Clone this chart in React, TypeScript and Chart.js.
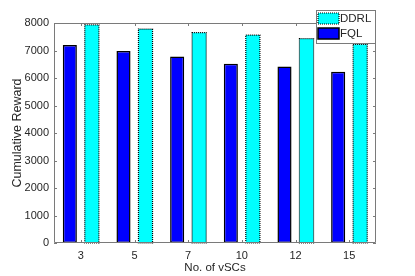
import React, { useEffect, useRef } from "react";
import { Chart, registerables } from "chart.js";

Chart.register(...registerables);

const categories = ["3", "5", "7", "10", "12", "15"];
const fqlValues = [7200, 6980, 6780, 6520, 6420, 6230];
const ddrlValues = [7930, 7780, 7650, 7560, 7430, 7220];
const yTicks = [0, 1000, 2000, 3000, 4000, 5000, 6000, 7000, 8000];

const FONT = "'Liberation Sans', Arial, sans-serif";
const AXIS_COLOR = "#7a7a7a";
const TEXT_COLOR = "#262626";

const framePlugin = {
  id: "frame",
  afterDatasetsDraw(chart: any) {
    const ctx = chart.ctx;
    const meta = chart.getDatasetMeta(1);
    ctx.save();
    meta.data.forEach((el: any) => {
      const { x, y, base, width } = el.getProps(["x", "y", "base", "width"], true);
      ctx.beginPath();
      ctx.setLineDash([1, 1]);
      ctx.lineWidth = 1.2;
      ctx.strokeStyle = "#000";
      ctx.rect(x - width / 2, y, width, base - y);
      ctx.stroke();
    });
    ctx.restore();
  },
  afterDraw(chart: any) {
    const ctx = chart.ctx;
    const { left, right, top, bottom } = chart.chartArea;
    const xs = chart.scales.x;
    const ys = chart.scales.y;
    ctx.save();
    ctx.strokeStyle = AXIS_COLOR;
    ctx.lineWidth = 1;
    ctx.beginPath();
    ctx.rect(left + 0.5, top + 0.5, right - left - 1, bottom - top - 1);
    ctx.stroke();
    const tl = 3;
    ctx.beginPath();
    yTicks.forEach((v) => {
      const py = Math.round(ys.getPixelForValue(v)) + 0.5;
      ctx.moveTo(left, py);
      ctx.lineTo(left + tl, py);
      ctx.moveTo(right, py);
      ctx.lineTo(right - tl, py);
    });
    categories.forEach((_, i) => {
      const px = Math.round(xs.getPixelForTick(i)) + 0.5;
      ctx.moveTo(px, bottom);
      ctx.lineTo(px, bottom - tl);
      ctx.moveTo(px, top);
      ctx.lineTo(px, top + tl);
    });
    ctx.stroke();

    // legend
    const lx = right - 60;
    const ly = top - 13;
    const lw = 59;
    const lh = 33;
    ctx.fillStyle = "#fff";
    ctx.fillRect(lx, ly, lw, lh);
    ctx.strokeStyle = AXIS_COLOR;
    ctx.strokeRect(lx + 0.5, ly + 0.5, lw, lh);
    const sw = 21;
    const sh = 11;
    const sx = lx + 2;
    ctx.fillStyle = "#00ffff";
    ctx.fillRect(sx, ly + 3, sw, sh);
    ctx.setLineDash([1, 1]);
    ctx.strokeStyle = "#000";
    ctx.lineWidth = 1.2;
    ctx.strokeRect(sx, ly + 3, sw, sh);
    ctx.setLineDash([]);
    ctx.fillStyle = "#0000ff";
    ctx.fillRect(sx, ly + 18, sw, sh);
    ctx.lineWidth = 1.5;
    ctx.strokeRect(sx, ly + 18, sw, sh);
    ctx.fillStyle = TEXT_COLOR;
    ctx.font = "11.5px " + FONT;
    ctx.textBaseline = "middle";
    ctx.textAlign = "left";
    ctx.fillText("DDRL", sx + sw + 1, ly + 9);
    ctx.fillText("FQL", sx + sw + 1, ly + 24);
    ctx.restore();
  },
};

export default function App() {
  const ref = useRef<HTMLCanvasElement | null>(null);
  useEffect(() => {
    if (!ref.current) return;
    const chart = new Chart(ref.current, {
      type: "bar",
      data: {
        labels: categories,
        datasets: [
          {
            label: "FQL",
            data: fqlValues,
            backgroundColor: "#0000ff",
            borderColor: "#000",
            borderWidth: 1.5,
            borderSkipped: false,
            categoryPercentage: 0.82,
            barPercentage: 0.64,
          },
          {
            label: "DDRL",
            data: ddrlValues,
            backgroundColor: "#00ffff",
            borderWidth: 0,
            categoryPercentage: 0.82,
            barPercentage: 0.64,
          },
        ],
      },
      options: {
        animation: false,
        responsive: false,
        maintainAspectRatio: false,
        layout: { padding: { left: 0, top: 23, right: 39, bottom: 0 } },
        plugins: { legend: { display: false }, tooltip: { enabled: false } },
        scales: {
          x: {
            grid: { display: false, drawTicks: false },
            border: { display: false },
            ticks: { font: { family: FONT, size: 11 }, color: TEXT_COLOR, padding: 6 },
            title: {
              display: true,
              text: "No. of vSCs",
              font: { family: FONT, size: 11.5 },
              color: TEXT_COLOR,
              padding: { top: 4, bottom: 1 },
            },
            afterFit(scale: any) {
              scale.height = 33;
            },
          },
          y: {
            min: 0,
            max: 8000,
            grid: { display: false, drawTicks: false },
            border: { display: false },
            ticks: {
              stepSize: 1000,
              font: { family: FONT, size: 11 },
              color: TEXT_COLOR,
              padding: 5,
              callback: (v: any) => String(v),
            },
            title: {
              display: true,
              text: "Cumulative Reward",
              font: { family: FONT, size: 12.5 },
              color: TEXT_COLOR,
              padding: { top: 10, bottom: 0 },
            },
            afterFit(scale: any) {
              scale.width = 54;
            },
          },
        },
      },
      plugins: [framePlugin],
    });
    return () => chart.destroy();
  }, []);
  return (
    <div style={{ position: "fixed", left: 0, top: 0, width: 415, height: 276, background: "#fff" }}>
      <canvas ref={ref} width={415} height={276} style={{ width: 415, height: 276, display: "block" }} />
    </div>
  );
}
